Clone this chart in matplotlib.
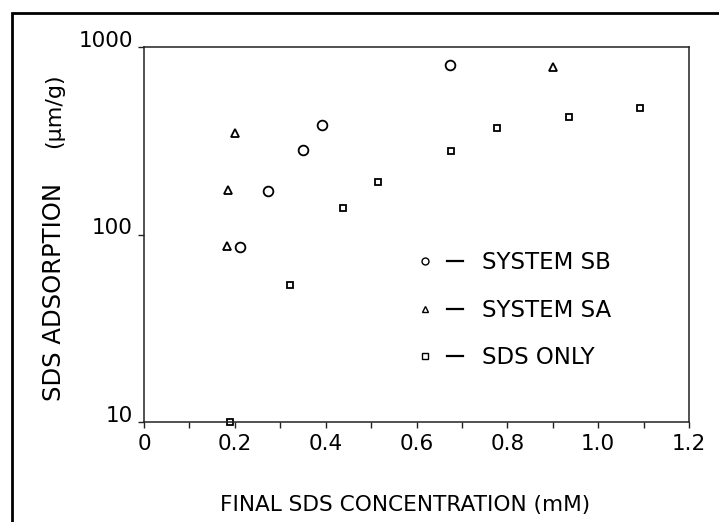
import matplotlib
matplotlib.use("Agg")
import matplotlib.pyplot as plt
from matplotlib.lines import Line2D
from matplotlib.patches import Rectangle
from matplotlib.legend_handler import HandlerTuple
from matplotlib.ticker import MultipleLocator, FixedLocator, FixedFormatter

plt.rcParams['font.family'] = ['DejaVu Sans']

# SYSTEM SB (circles)
sb_x = [0.211, 0.273, 0.350, 0.392, 0.674]
sb_y = [86, 171, 282, 384, 801]
# SYSTEM SA (triangles)
sa_x = [0.183, 0.185, 0.200, 0.900]
sa_y = [87, 172, 347, 782]
# SDS only (squares)
sds_x = [0.189, 0.322, 0.438, 0.515, 0.676, 0.778, 0.936, 1.093]
sds_y = [10, 54, 138, 190, 279, 370, 424, 473]

xticks = [0, 0.2, 0.4, 0.6, 0.8, 1.0, 1.2]
xtick_labels = ['0', '0.2', '0.4', '0.6', '0.8', '1.0', '1.2']
yticks = [10, 100, 1000]
ytick_labels = ['10', '100', '1000']

W, H = 719, 522
fig = plt.figure(figsize=(W / 100, H / 100), dpi=100)
ax = fig.add_axes([144 / W, 1 - 422 / H, (689 - 144) / W, (422 - 47) / H])

# outer frame of the scanned figure
fig.add_artist(Rectangle((12 / W, -0.1), 1.2, 1 - 13 / H + 0.1,
                         transform=fig.transFigure, fill=False,
                         edgecolor='black', linewidth=2))

mk = dict(linestyle='none', markerfacecolor='white', markeredgecolor='black',
          markeredgewidth=1.3, clip_on=False)
ax.plot(sb_x, sb_y, marker='o', markersize=7, **mk)
ax.plot(sa_x, sa_y, marker='^', markersize=5.5, **mk)
ax.plot(sds_x, sds_y, marker='s', markersize=5, **mk)

ax.set_yscale('log')
ax.set_xlim(0, 1.2)
ax.set_ylim(10, 1000)

ax.xaxis.set_major_locator(FixedLocator(xticks))
ax.xaxis.set_major_formatter(FixedFormatter(xtick_labels))
ax.xaxis.set_minor_locator(MultipleLocator(0.1))
ax.yaxis.set_major_locator(FixedLocator(yticks))
ax.yaxis.set_major_formatter(FixedFormatter(ytick_labels))
ax.yaxis.set_minor_locator(FixedLocator([]))

ax.tick_params(axis='both', which='both', direction='out', length=4,
               width=1, color='#222222', labelsize=15.5)
ax.tick_params(axis='x', pad=5)
ax.tick_params(axis='y', pad=4)
for lab in ax.get_yticklabels():
    lab.set_va('baseline')

for sp in ax.spines.values():
    sp.set_linewidth(1.1)
    sp.set_color('#222222')

fig.text(405 / W, 1 - 505 / H, 'FINAL SDS CONCENTRATION (mM)',
         ha='center', va='center', fontsize=15.6)
fig.text(54 / W, 1 - 292 / H, 'SDS ADSORPTION', rotation=90,
         ha='center', va='center', fontsize=17.5)
fig.text(54 / W, 1 - 111 / H, '(μm/g)', rotation=90,
         ha='center', va='center', fontsize=16)

# legend: marker, dash, label
dash = dict(color='black', linewidth=1.6)
lmk = dict(linestyle='none', markerfacecolor='white', markeredgecolor='black',
           markeredgewidth=1.0)
handles = [
    (Line2D([], [], marker='o', markersize=5, **lmk), Line2D([], [], **dash)),
    (Line2D([], [], marker='^', markersize=4, **lmk), Line2D([], [], **dash)),
    (Line2D([], [], marker='s', markersize=4, **lmk), Line2D([], [], **dash)),
]
labels = ['SYSTEM SB', 'SYSTEM SA', 'SDS ONLY']
ax.legend(handles, labels, handler_map={tuple: HandlerTuple(ndivide=None, pad=0.61)},
          loc='upper left', bbox_to_anchor=(417 / W, 1 - 251 / H),
          bbox_transform=fig.transFigure, frameon=False, borderpad=0,
          borderaxespad=0, handlelength=2.0, handletextpad=0.83,
          labelspacing=1.07, prop={'size': 16.5})

fig.savefig('out.png', dpi=100)
